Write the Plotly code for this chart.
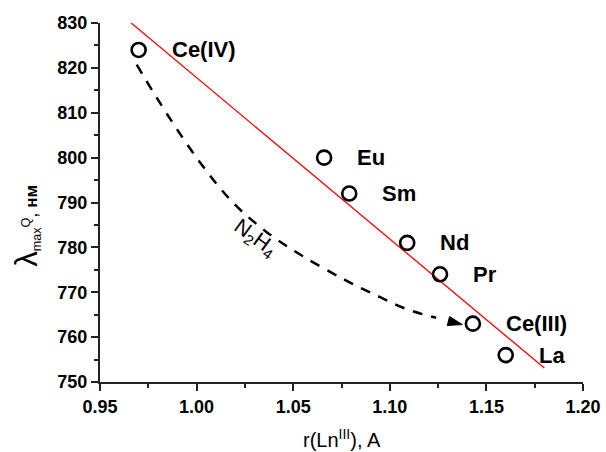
import numpy as np
import plotly.graph_objects as go

# data
elements = ["Ce(IV)", "Eu", "Sm", "Nd", "Pr", "Ce(III)", "La"]
radius = [0.970, 1.066, 1.079, 1.109, 1.126, 1.143, 1.160]
lam_max = [824, 800, 792, 781, 774, 763, 756]

# dashed guide curve (N2H4 reduction path)
curve_x = [0.969, 0.985, 1.002, 1.019, 1.036, 1.054, 1.077, 1.095, 1.109, 1.124]
curve_y = [820.7, 809.5, 798.8, 789.9, 783.5, 778.3, 772.7, 768.9, 766.2, 764.3]
arrow_x = [1.122, 1.1375]
arrow_y = [764.5, 762.8]
label_pos = (1.0303, 782.1)

fit_range = [0.965, 1.18]

slope, intercept = np.polyfit(radius, lam_max, 1)
fit_x = np.array(fit_range)
fit_y = slope * fit_x + intercept

FONT = "Liberation Sans, Arial, sans-serif"

fig = go.Figure()
fig.add_trace(go.Scatter(x=fit_x, y=fit_y, mode="lines",
                         line=dict(color="#ff0000", width=1.3), hoverinfo="skip"))
fig.add_trace(go.Scatter(x=curve_x, y=curve_y, mode="lines",
                         line=dict(color="black", width=2.5, dash="10px,9px", shape="spline"),
                         hoverinfo="skip"))
fig.add_trace(go.Scatter(x=arrow_x, y=arrow_y, mode="markers", hoverinfo="skip",
                         marker=dict(symbol="arrow", size=[0, 15], angleref="previous",
                                     color="black", opacity=1,
                                     line=dict(width=1, color="black"))))
fig.add_trace(go.Scatter(x=radius, y=lam_max, mode="markers",
                         marker=dict(symbol="circle-open", size=14, color="black",
                                     line=dict(width=2.6, color="black"))))

for name, xv, yv in zip(elements, radius, lam_max):
    fig.add_annotation(x=xv, y=yv, text=name, showarrow=False, xanchor="left",
                       yanchor="middle", xshift=31,
                       font=dict(family=FONT, size=22, color="black", weight="bold"))

fig.add_annotation(x=label_pos[0], y=label_pos[1], text="N<sub>2</sub>H<sub>4</sub>",
                   showarrow=False, textangle=36,
                   font=dict(family=FONT, size=21, color="black"))

fig.add_annotation(xref="paper", yref="paper", x=0.5, y=-0.156, text="r(Ln<sup>III</sup>), A",
                   showarrow=False, xanchor="center", yanchor="middle",
                   font=dict(family=FONT, size=20, color="black"))

fig.add_annotation(xref="paper", yref="paper", x=0, xshift=-73, y=0.435,
                   text="<span style='font-size:31px'>λ</span><sub>max</sub><sup>Q</sup>, "
                        "<span style='font-size:17px;font-weight:bold'>нм</span>",
                   showarrow=False, textangle=-90, xanchor="center", yanchor="middle",
                   font=dict(family=FONT, size=18, color="black"))

axis_common = dict(showline=True, linecolor="#222", linewidth=2, mirror=False,
                   ticks="outside", ticklen=7, tickwidth=1.5, tickcolor="#222",
                   showgrid=False, zeroline=False,
                   tickfont=dict(family=FONT, size=18, color="black", weight="bold"))

fig.update_xaxes(range=[0.95, 1.20], dtick=0.05, tick0=0.95, tickformat=".2f",
                 minor=dict(dtick=0.025, ticklen=4, tickwidth=1.5, tickcolor="#222", ticks="outside"),
                 **axis_common)
fig.update_yaxes(range=[750, 830], dtick=10, tick0=750,
                 minor=dict(dtick=5, ticklen=4, tickwidth=1.5, tickcolor="#222", ticks="outside"),
                 **axis_common)

fig.update_layout(width=606, height=452, showlegend=False,
                  margin=dict(l=100, r=23, t=23, b=70, autoexpand=False),
                  plot_bgcolor="white", paper_bgcolor="white")

fig.write_html("out.html", config={"displayModeBar": False},
               post_script="document.body.style.margin='0';document.body.style.overflow='hidden';")
